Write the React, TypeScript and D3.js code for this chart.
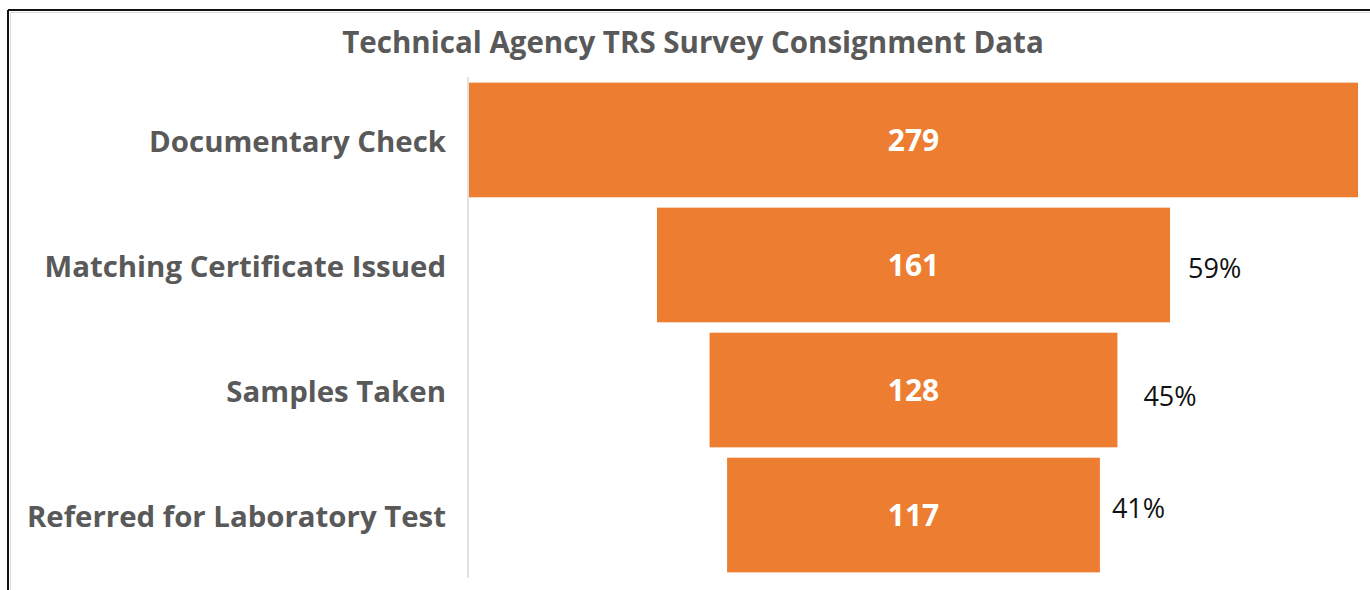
import React, { useEffect, useRef } from 'react';
import * as d3 from 'd3';

const stages = ['Documentary Check', 'Matching Certificate Issued', 'Samples Taken', 'Referred for Laboratory Test'];
const counts = [279, 161, 128, 117];
const pctLabels = ['', '59%', '45%', '41%'];
// small hand nudges for the free-floating percent boxes
const pctNudge = [[0, 0], [18, 4], [26, 7], [12, -6]];

const W = 1370;
const H = 590;

const App = () => {
    const svgRef = useRef<SVGSVGElement>(null);

    useEffect(() => {
        if (!svgRef.current) return;
        const svg = d3.select(svgRef.current);
        svg.selectAll('*').remove();

        const axisX = 468;
        const centerX = 913.5;
        const top = 77;
        const bottom = 578;

        const y = d3.scaleBand<string>()
            .domain(stages)
            .range([top, bottom])
            .paddingInner(0.083)
            .paddingOuter(0.045);

        const w = d3.scaleLinear()
            .domain([0, d3.max(counts) || 1])
            .range([0, 889]);

        // chart frame
        svg.append('line').attr('x1', 8).attr('x2', W).attr('y1', 10).attr('y2', 10)
            .attr('stroke', '#111').attr('stroke-width', 2);
        svg.append('line').attr('x1', 8).attr('x2', 8).attr('y1', 10).attr('y2', H)
            .attr('stroke', '#111').attr('stroke-width', 2);
        svg.append('line').attr('x1', 10.5).attr('x2', W).attr('y1', 12.5).attr('y2', 12.5)
            .attr('stroke', '#d9d9d9').attr('stroke-width', 1);
        svg.append('line').attr('x1', 10.5).attr('x2', 10.5).attr('y1', 12.5).attr('y2', H)
            .attr('stroke', '#d9d9d9').attr('stroke-width', 1);

        // title
        svg.append('text')
            .attr('x', 693)
            .attr('y', 53)
            .attr('text-anchor', 'middle')
            .attr('fill', '#595959')
            .style('font-family', 'Open Sans, sans-serif')
            .style('font-weight', '700')
            .style('font-size', '29.5px')
            .text('Technical Agency TRS Survey Consignment Data');

        // category axis line
        svg.append('line')
            .attr('x1', axisX).attr('x2', axisX)
            .attr('y1', top).attr('y2', bottom)
            .attr('stroke', '#d9d9d9').attr('stroke-width', 1.5);

        const rows = svg.append('g')
            .selectAll('g')
            .data(stages)
            .join('g');

        rows.append('rect')
            .attr('x', (d, i) => centerX - w(counts[i]) / 2)
            .attr('y', d => y(d) as number)
            .attr('width', (d, i) => w(counts[i]))
            .attr('height', y.bandwidth())
            .attr('fill', '#ed7d31');

        rows.append('text')
            .attr('x', centerX)
            .attr('y', d => (y(d) as number) + y.bandwidth() / 2)
            .attr('dy', '0.38em')
            .attr('text-anchor', 'middle')
            .attr('fill', '#fff')
            .style('font-family', 'Open Sans, sans-serif')
            .style('font-weight', '700')
            .style('font-size', '30px')
            .text((d, i) => counts[i]);

        rows.append('text')
            .attr('x', axisX - 22)
            .attr('y', d => (y(d) as number) + y.bandwidth() / 2)
            .attr('dy', '0.4em')
            .attr('text-anchor', 'end')
            .attr('fill', '#595959')
            .style('font-family', 'Open Sans, sans-serif')
            .style('font-weight', '700')
            .style('font-size', '29.4px')
            .text(d => d);

        rows.append('text')
            .attr('x', (d, i) => centerX + w(counts[i]) / 2 + pctNudge[i][0])
            .attr('y', d => (y(d) as number) + y.bandwidth() / 2)
            .attr('dy', (d, i) => pctNudge[i][1] + 9)
            .attr('fill', '#111')
            .style('font-family', 'Open Sans, sans-serif')
            .style('font-size', '27px')
            .text((d, i) => pctLabels[i]);
    }, []);

    return (
        <div style={{ position: 'fixed', left: 0, top: 0, width: W, height: H, background: '#fff' }}>
            <svg ref={svgRef} width={W} height={H} />
        </div>
    );
};

export default App;
